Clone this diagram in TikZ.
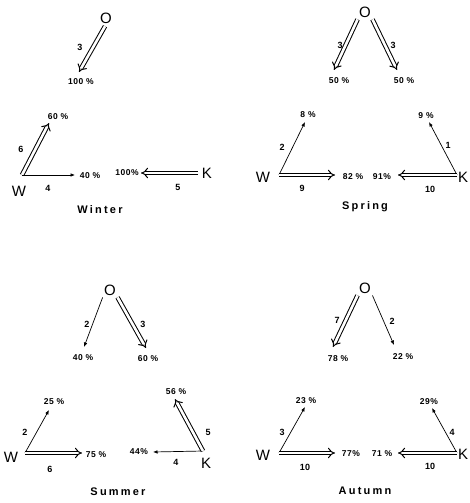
\documentclass[tikz,border=0pt]{standalone}
\usepackage{fontspec}
\setmainfont{Liberation Sans}
\usepackage{tikz}
\usetikzlibrary{arrows.meta, calc, positioning}

\begin{document}
\begin{tikzpicture}[x=1pt, y=-1pt,
  station/.style={inner sep=1pt, font=\fontsize{15}{15}\selectfont},
  pct/.style={inner sep=0pt, font=\fontsize{8.5}{8.5}\selectfont\bfseries\addfontfeature{LetterSpace=6}},
  wt/.style={inner sep=0pt, font=\fontsize{9}{9}\selectfont\bfseries},
  season/.style={inner sep=0pt, font=\fontsize{11}{11}\selectfont\bfseries\addfontfeature{LetterSpace=20}},
  flow/.style={line width=0.7pt, -{Latex[length=4.5pt, width=3.6pt]}},
  bigflow/.style={double, double distance=2.6pt, line width=1pt, -{Implies}}]
\useasboundingbox (0,0) rectangle (470,503);

% Winter
\node[station] (Owi) at (106,18) {O};
\coordinate (tOwi) at (79,72);
\draw[bigflow, shorten <=2pt] (Owi.south) -- (tOwi);
\node[wt] at (80,47) {3};
\node[pct] at (81,82) {100 \%};
\node[station] (Wwi) at (19,191) {W};
\coordinate (rWwi) at (22,175);
\coordinate (tWwi1) at (49,123);
\coordinate (tWwi2) at (75,175);
\draw[bigflow] (rWwi) -- (tWwi1);
\draw[flow] (rWwi) -- (tWwi2);
\node[wt] at (21,149) {6};
\node[pct] at (58,117) {60 \%};
\node[wt] at (48,188) {4};
\node[pct] at (90,176) {40 \%};
\node[station] (Kwi) at (207,173) {K};
\coordinate (rKwi) at (198,173);
\coordinate (tKwi) at (141,173);
\draw[bigflow] (rKwi) -- (tKwi);
\node[wt] at (178,187) {5};
\node[pct] at (127,173) {100\%};
\node[season] at (100,210) {Winter};

% Spring
\node[station] (Osp) at (365,12) {O};
\coordinate (tOsp1) at (334,70);
\coordinate (tOsp2) at (397,70);
\draw[bigflow, shorten <=1pt] (Osp.south west) -- (tOsp1);
\draw[bigflow, shorten <=1pt] (Osp.south east) -- (tOsp2);
\node[wt] at (340,45) {3};
\node[pct] at (339,81) {50 \%};
\node[wt] at (393,45) {3};
\node[pct] at (404,81) {50 \%};
\node[station] (Wsp) at (263,177) {W};
\coordinate (rWsp) at (279,175);
\coordinate (tWsp1) at (305,122);
\coordinate (tWsp2) at (335,175);
\draw[flow] (rWsp) -- (tWsp1);
\draw[bigflow] (rWsp) -- (tWsp2);
\node[wt] at (282,147) {2};
\node[pct] at (308,115) {8 \%};
\node[wt] at (302,188) {9};
\node[pct] at (353,177) {82 \%};
\node[station] (Ksp) at (463,177) {K};
\coordinate (rKsp) at (457,175);
\coordinate (tKsp1) at (429,122);
\coordinate (tKsp2) at (398,175);
\draw[flow] (rKsp) -- (tKsp1);
\draw[bigflow] (rKsp) -- (tKsp2);
\node[wt] at (448,145) {1};
\node[pct] at (426,116) {9 \%};
\node[wt] at (430,189) {10};
\node[pct] at (382,177) {91\%};
\node[season] at (365,207) {Spring};

% Summer
\node[station] (Osu) at (110,290) {O};
\coordinate (tOsu1) at (84,347);
\coordinate (tOsu2) at (146,348);
\draw[flow, shorten <=1pt] (Osu.south west) -- (tOsu1);
\draw[bigflow, shorten <=1pt] (Osu.south east) -- (tOsu2);
\node[wt] at (87,324) {2};
\node[pct] at (83,358) {40 \%};
\node[wt] at (143,324) {3};
\node[pct] at (148,359) {60 \%};
\node[station] (Wsu) at (11,457) {W};
\coordinate (rWsu) at (25,453);
\coordinate (tWsu1) at (49,410);
\coordinate (tWsu2) at (82,453);
\draw[flow] (rWsu) -- (tWsu1);
\draw[bigflow] (rWsu) -- (tWsu2);
\node[wt] at (25,432) {2};
\node[pct] at (54,402) {25 \%};
\node[wt] at (50,469) {6};
\node[pct] at (96,455) {75 \%};
\node[station] (Ksu) at (206,463) {K};
\coordinate (rKsu) at (203,451);
\coordinate (tKsu1) at (153,452);
\coordinate (tKsu2) at (175,399);
\draw[flow] (rKsu) -- (tKsu1);
\draw[bigflow] (rKsu) -- (tKsu2);
\node[wt] at (176,462) {4};
\node[pct] at (139,452) {44\%};
\node[wt] at (208,432) {5};
\node[pct] at (176,392) {56 \%};
\node[season] at (118,492) {Summer};

% Autumn
\node[station] (Oau) at (365,288) {O};
\coordinate (tOau1) at (333,347);
\coordinate (tOau2) at (394,345);
\draw[bigflow, shorten <=1pt] (Oau.south west) -- (tOau1);
\draw[flow, shorten <=1pt] (Oau.south east) -- (tOau2);
\node[wt] at (337,320) {7};
\node[pct] at (338,359) {78 \%};
\node[wt] at (392,321) {2};
\node[pct] at (403,357) {22 \%};
\node[station] (Wau) at (263,455) {W};
\coordinate (rWau) at (279,453);
\coordinate (tWau1) at (305,407);
\coordinate (tWau2) at (335,453);
\draw[flow] (rWau) -- (tWau1);
\draw[bigflow] (rWau) -- (tWau2);
\node[wt] at (282,432) {3};
\node[pct] at (306,401) {23 \%};
\node[wt] at (305,467) {10};
\node[pct] at (351,454) {77\%};
\node[station] (Kau) at (463,454) {K};
\coordinate (rKau) at (457,453);
\coordinate (tKau1) at (432,408);
\coordinate (tKau2) at (398,453);
\draw[flow] (rKau) -- (tKau1);
\draw[bigflow] (rKau) -- (tKau2);
\node[wt] at (452,432) {4};
\node[pct] at (429,402) {29\%};
\node[wt] at (430,466) {10};
\node[pct] at (382,454) {71 \%};
\node[season] at (365,491) {Autumn};
\end{tikzpicture}
\end{document}
